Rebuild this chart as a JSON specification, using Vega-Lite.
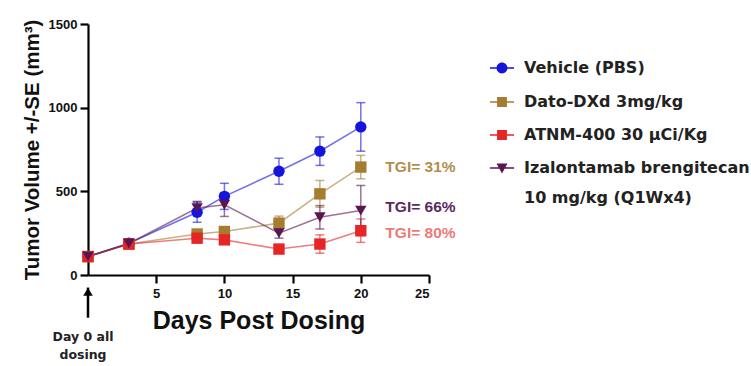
{
  "$schema": "https://vega.github.io/schema/vega-lite/v6.json",
  "width": 341,
  "height": 251,
  "autosize": "none",
  "padding": {"left": 88, "top": 24, "right": 322, "bottom": 91},
  "config": {
    "view": {"stroke": null},
    "font": "Liberation Sans",
    "axis": {
      "domainColor": "#000", "domainWidth": 2.2, "tickColor": "#000", "tickWidth": 2.2, "tickSize": 8,
      "labelFont": "Liberation Sans", "labelFontWeight": "bold", "labelFontSize": 13, "labelColor": "#111",
      "titleFont": "Liberation Sans", "titleFontWeight": "bold", "titleColor": "#111", "grid": false
    }
  },
  "datasets": {
    "pts": [
      {"series": "Vehicle (PBS)", "day": 0, "vol": 110, "se": 12},
      {"series": "Vehicle (PBS)", "day": 3, "vol": 190, "se": 15},
      {"series": "Vehicle (PBS)", "day": 8, "vol": 375, "se": 60},
      {"series": "Vehicle (PBS)", "day": 10, "vol": 470, "se": 78},
      {"series": "Vehicle (PBS)", "day": 14, "vol": 620, "se": 78},
      {"series": "Vehicle (PBS)", "day": 17, "vol": 740, "se": 85},
      {"series": "Vehicle (PBS)", "day": 20, "vol": 885, "se": 145},
      {"series": "Dato-DXd 3mg/kg", "day": 0, "vol": 110, "se": 10},
      {"series": "Dato-DXd 3mg/kg", "day": 3, "vol": 185, "se": 15},
      {"series": "Dato-DXd 3mg/kg", "day": 8, "vol": 245, "se": 20},
      {"series": "Dato-DXd 3mg/kg", "day": 10, "vol": 260, "se": 25},
      {"series": "Dato-DXd 3mg/kg", "day": 14, "vol": 310, "se": 42},
      {"series": "Dato-DXd 3mg/kg", "day": 17, "vol": 485, "se": 80},
      {"series": "Dato-DXd 3mg/kg", "day": 20, "vol": 645, "se": 70},
      {"series": "ATNM-400 30 µCi/Kg", "day": 0, "vol": 110, "se": 10},
      {"series": "ATNM-400 30 µCi/Kg", "day": 3, "vol": 185, "se": 15},
      {"series": "ATNM-400 30 µCi/Kg", "day": 8, "vol": 220, "se": 25},
      {"series": "ATNM-400 30 µCi/Kg", "day": 10, "vol": 210, "se": 25},
      {"series": "ATNM-400 30 µCi/Kg", "day": 14, "vol": 155, "se": 25},
      {"series": "ATNM-400 30 µCi/Kg", "day": 17, "vol": 185, "se": 55},
      {"series": "ATNM-400 30 µCi/Kg", "day": 20, "vol": 265, "se": 70},
      {"series": "Izalontamab brengitecan 10 mg/kg (Q1Wx4)", "day": 0, "vol": 110, "se": 10},
      {"series": "Izalontamab brengitecan 10 mg/kg (Q1Wx4)", "day": 3, "vol": 188, "se": 15},
      {"series": "Izalontamab brengitecan 10 mg/kg (Q1Wx4)", "day": 8, "vol": 400, "se": 40},
      {"series": "Izalontamab brengitecan 10 mg/kg (Q1Wx4)", "day": 10, "vol": 420, "se": 70},
      {"series": "Izalontamab brengitecan 10 mg/kg (Q1Wx4)", "day": 14, "vol": 250, "se": 30},
      {"series": "Izalontamab brengitecan 10 mg/kg (Q1Wx4)", "day": 17, "vol": 345, "se": 70},
      {"series": "Izalontamab brengitecan 10 mg/kg (Q1Wx4)", "day": 20, "vol": 385, "se": 150}
    ],
    "tgi": [
      {"series": "Dato-DXd 3mg/kg", "day": 21.8, "vol": 643, "label": "TGI= 31%"},
      {"series": "Izalontamab brengitecan 10 mg/kg (Q1Wx4)", "day": 21.8, "vol": 405, "label": "TGI= 66%"},
      {"series": "ATNM-400 30 µCi/Kg", "day": 21.8, "vol": 250, "label": "TGI= 80%"}
    ],
    "note": [
      {"day": 0, "top": -75, "bottom": -255, "head": -100, "label": "Day 0 all\ndosing", "ty": -335}
    ]
  },
  "layer": [
    {
      "data": {"name": "pts"},
      "mark": {"type": "line", "strokeWidth": 1.6, "opacity": 0.6},
      "encoding": {
        "x": {"field": "day", "type": "quantitative", "title": "Days Post Dosing", "scale": {"domain": [0, 25], "nice": false},
              "axis": {"values": [5, 10, 15, 20, 25], "titleFontSize": 25, "titlePadding": 8, "labelPadding": 4}},
        "y": {"field": "vol", "type": "quantitative", "title": "Tumor Volume +/-SE (mm³)", "scale": {"domain": [0, 1500], "nice": false},
              "axis": {"values": [0, 500, 1000, 1500], "format": "d", "titleFontSize": 20.5, "titlePadding": 6, "labelPadding": 3}},
        "color": {"field": "series", "type": "nominal", "legend": null,
                  "scale": {"domain": ["Vehicle (PBS)", "Dato-DXd 3mg/kg", "ATNM-400 30 µCi/Kg", "Izalontamab brengitecan 10 mg/kg (Q1Wx4)"],
                            "range": ["#1414dc", "#a57d30", "#e62626", "#5a1650"]}},
        "detail": {"field": "series"}
      }
    },
    {
      "data": {"name": "pts"},
      "mark": {"type": "errorbar", "ticks": {"size": 9, "thickness": 1.5}, "rule": {"strokeWidth": 1.5}, "opacity": 0.6},
      "encoding": {
        "x": {"field": "day", "type": "quantitative", "title": "Days Post Dosing"},
        "y": {"field": "vol", "type": "quantitative", "title": "Tumor Volume +/-SE (mm³)"},
        "yError": {"field": "se"},
        "color": {"field": "series", "type": "nominal", "legend": null}
      }
    },
    {
      "data": {"name": "pts"},
      "mark": {"type": "point", "filled": true, "opacity": 1, "size": 130},
      "encoding": {
        "x": {"field": "day", "type": "quantitative", "title": "Days Post Dosing"},
        "y": {"field": "vol", "type": "quantitative", "title": "Tumor Volume +/-SE (mm³)"},
        "color": {"field": "series", "type": "nominal", "legend": null},
        "shape": {"field": "series", "type": "nominal", "legend": null,
                  "scale": {"domain": ["Vehicle (PBS)", "Dato-DXd 3mg/kg", "ATNM-400 30 µCi/Kg", "Izalontamab brengitecan 10 mg/kg (Q1Wx4)"],
                            "range": ["circle", "square", "square", "triangle-down"]}},
        "order": {"field": "day"}
      }
    },
    {
      "data": {"name": "pts"},
      "mark": {"type": "point", "filled": true, "opacity": 0, "size": 120},
      "encoding": {
        "x": {"field": "day", "type": "quantitative", "title": "Days Post Dosing"},
        "y": {"field": "vol", "type": "quantitative", "title": "Tumor Volume +/-SE (mm³)"},
        "shape": {"field": "series", "type": "nominal",
                  "legend": {"title": null, "orient": "none", "legendX": 406, "legendY": 36, "padding": 0, "gridAlign": "none",
                             "labelFont": "DejaVu Sans", "labelFontWeight": "bold", "labelFontSize": 16, "labelColor": "#222",
                             "labelOffset": 14, "rowPadding": 17, "symbolSize": 120, "labelLimit": 320, "symbolOpacity": 1,
                             "labelExpr": "datum.label == 'Izalontamab brengitecan 10 mg/kg (Q1Wx4)' ? ['Izalontamab brengitecan', '10 mg/kg (Q1Wx4)'] : datum.label",
                             "encoding": {
                               "labels": {"lineHeight": {"value": 30}},
                               "symbols": {"fill": {"value": {"signal": "scale('color', datum.value)"}}, "opacity": {"value": 1}}
                             }},
                  "scale": {"domain": ["Vehicle (PBS)", "Dato-DXd 3mg/kg", "ATNM-400 30 µCi/Kg", "Izalontamab brengitecan 10 mg/kg (Q1Wx4)"],
                            "range": [
                              "M-2.2,-0.13L2.2,-0.13L2.2,0.13L-2.2,0.13Z M1,0 A1,1 0 1,1 -1,0 A1,1 0 1,1 1,0 Z",
                              "M-2.2,-0.13L2.2,-0.13L2.2,0.13L-2.2,0.13Z M-0.9,-0.9 L0.9,-0.9 L0.9,0.9 L-0.9,0.9 Z",
                              "M-2.2,-0.13L2.2,-0.13L2.2,0.13L-2.2,0.13Z M-0.9,-0.9 L0.9,-0.9 L0.9,0.9 L-0.9,0.9 Z",
                              "M-2.2,-0.13L2.2,-0.13L2.2,0.13L-2.2,0.13Z M-1,-0.8 L1,-0.8 L0,1 Z"
                            ]}}
      }
    },
    {
      "data": {"name": "tgi"},
      "transform": [{"filter": "datum.label == 'TGI= 31%'"}],
      "mark": {"type": "text", "align": "left", "baseline": "middle", "fontSize": 15.5, "fontWeight": "bold", "font": "Liberation Sans", "color": "#b08f4e"},
      "encoding": {
        "x": {"field": "day", "type": "quantitative", "title": "Days Post Dosing"},
        "y": {"field": "vol", "type": "quantitative", "title": "Tumor Volume +/-SE (mm³)"},
        "text": {"field": "label"}
      }
    },
    {
      "data": {"name": "tgi"},
      "transform": [{"filter": "datum.label == 'TGI= 66%'"}],
      "mark": {"type": "text", "align": "left", "baseline": "middle", "fontSize": 15.5, "fontWeight": "bold", "font": "Liberation Sans", "color": "#5a2a5e"},
      "encoding": {
        "x": {"field": "day", "type": "quantitative", "title": "Days Post Dosing"},
        "y": {"field": "vol", "type": "quantitative", "title": "Tumor Volume +/-SE (mm³)"},
        "text": {"field": "label"}
      }
    },
    {
      "data": {"name": "tgi"},
      "transform": [{"filter": "datum.label == 'TGI= 80%'"}],
      "mark": {"type": "text", "align": "left", "baseline": "middle", "fontSize": 15.5, "fontWeight": "bold", "font": "Liberation Sans", "color": "#ea7c78"},
      "encoding": {
        "x": {"field": "day", "type": "quantitative", "title": "Days Post Dosing"},
        "y": {"field": "vol", "type": "quantitative", "title": "Tumor Volume +/-SE (mm³)"},
        "text": {"field": "label"}
      }
    },
    {
      "data": {"name": "note"},
      "mark": {"type": "rule", "strokeWidth": 2.5, "color": "#000"},
      "encoding": {
        "x": {"field": "day", "type": "quantitative", "title": "Days Post Dosing"},
        "y": {"field": "top", "type": "quantitative", "title": "Tumor Volume +/-SE (mm³)"},
        "y2": {"field": "bottom"}
      }
    },
    {
      "data": {"name": "note"},
      "mark": {"type": "point", "shape": "triangle-up", "filled": true, "color": "#000", "size": 90, "opacity": 1},
      "encoding": {
        "x": {"field": "day", "type": "quantitative", "title": "Days Post Dosing"},
        "y": {"field": "head", "type": "quantitative", "title": "Tumor Volume +/-SE (mm³)"}
      }
    },
    {
      "data": {"name": "note"},
      "mark": {"type": "text", "lineBreak": "\n", "align": "center", "baseline": "top", "fontSize": 12.5, "fontWeight": "bold", "font": "DejaVu Sans", "color": "#222", "lineHeight": 18, "dx": -5},
      "encoding": {
        "x": {"field": "day", "type": "quantitative", "title": "Days Post Dosing"},
        "y": {"field": "ty", "type": "quantitative", "title": "Tumor Volume +/-SE (mm³)"},
        "text": {"field": "label"}
      }
    }
  ],
  "resolve": {"scale": {"shape": "independent"}}
}
